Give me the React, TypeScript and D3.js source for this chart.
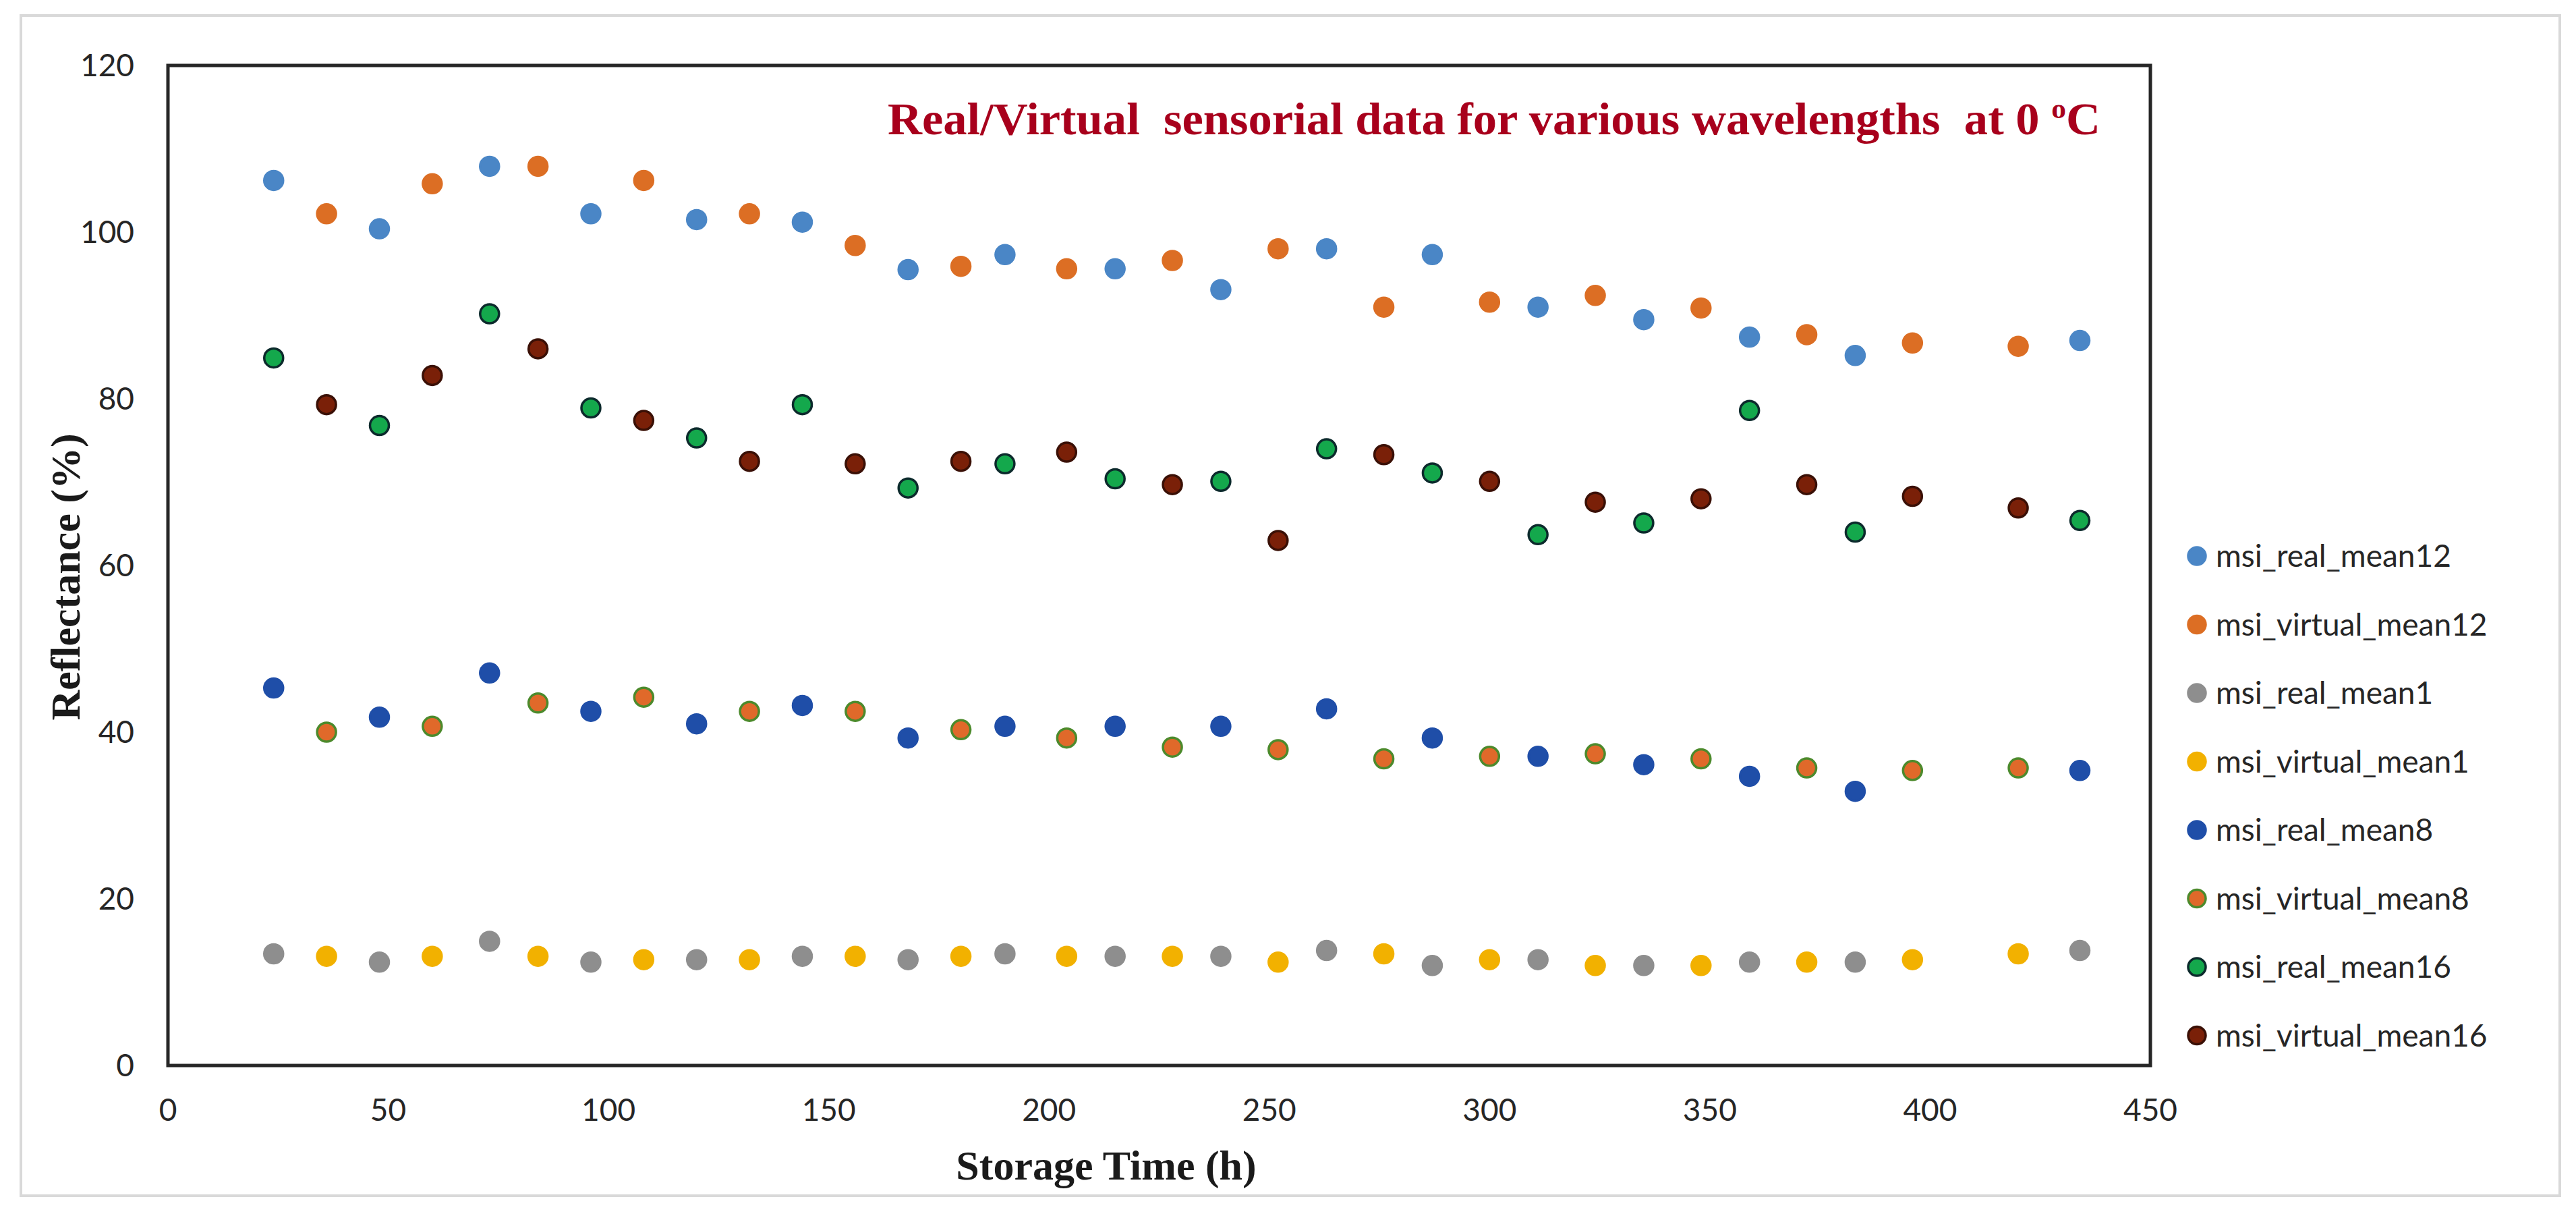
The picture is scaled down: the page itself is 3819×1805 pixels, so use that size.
import { useEffect, useRef } from "react";
import * as d3 from "d3";

// storage time (h) of each sample
const timeReal = [24, 48, 73, 96, 120, 144, 168, 190, 215, 239, 263, 287, 311, 335, 359, 383, 434];
const timeVirtual = [36, 60, 84, 108, 132, 156, 180, 204, 228, 252, 276, 300, 324, 348, 372, 396, 420];

// reflectance (%) per series
const realMean12 = [106.2, 100.4, 107.9, 102.2, 101.5, 101.2, 95.5, 97.3, 95.6, 93.1, 98.0, 97.3, 91.0, 89.5, 87.4, 85.2, 87.0];
const virtualMean12 = [102.2, 105.8, 107.9, 106.2, 102.2, 98.4, 95.9, 95.6, 96.6, 98.0, 91.0, 91.6, 92.4, 90.9, 87.7, 86.7, 86.3];
const realMean1 = [13.4, 12.4, 14.9, 12.4, 12.7, 13.1, 12.7, 13.4, 13.1, 13.1, 13.8, 12.0, 12.7, 12.0, 12.4, 12.4, 13.8];
const virtualMean1 = [13.1, 13.1, 13.1, 12.7, 12.7, 13.1, 13.1, 13.1, 13.1, 12.4, 13.4, 12.7, 12.0, 12.0, 12.4, 12.7, 13.4];
const realMean8 = [45.3, 41.8, 47.1, 42.5, 41.0, 43.2, 39.3, 40.7, 40.7, 40.7, 42.8, 39.3, 37.1, 36.1, 34.7, 32.9, 35.4];
const virtualMean8 = [40.0, 40.7, 43.5, 44.2, 42.5, 42.5, 40.3, 39.3, 38.2, 37.9, 36.8, 37.1, 37.4, 36.8, 35.7, 35.4, 35.7];
const realMean16 = [84.9, 76.8, 90.2, 78.9, 75.3, 79.3, 69.3, 72.2, 70.4, 70.1, 74.0, 71.1, 63.7, 65.1, 78.6, 64.0, 65.4];
const virtualMean16 = [79.3, 82.8, 86.0, 77.4, 72.5, 72.2, 72.5, 73.6, 69.7, 63.0, 73.3, 70.1, 67.6, 68.0, 69.7, 68.3, 66.9];

const xTicks = [0, 50, 100, 150, 200, 250, 300, 350, 400, 450];
const yTicks = [0, 20, 40, 60, 80, 100, 120];

const series = [
  { name: "msi_real_mean12", x: timeReal, y: realMean12, fill: "#4A86C6", stroke: "#4A86C6" },
  { name: "msi_virtual_mean12", x: timeVirtual, y: virtualMean12, fill: "#DC6E24", stroke: "#DC6E24" },
  { name: "msi_real_mean1", x: timeReal, y: realMean1, fill: "#8E8E8E", stroke: "#8E8E8E" },
  { name: "msi_virtual_mean1", x: timeVirtual, y: virtualMean1, fill: "#F2B100", stroke: "#F2B100" },
  { name: "msi_real_mean8", x: timeReal, y: realMean8, fill: "#1F4EA8", stroke: "#1F4EA8" },
  { name: "msi_virtual_mean8", x: timeVirtual, y: virtualMean8, fill: "#E0692A", stroke: "#4C8A2C" },
  { name: "msi_real_mean16", x: timeReal, y: realMean16, fill: "#14A84C", stroke: "#0C2A2C" },
  { name: "msi_virtual_mean16", x: timeVirtual, y: virtualMean16, fill: "#7A2008", stroke: "#3A1006" },
];

const W = 3819;
const H = 1805;

export default function App() {
  const svgRef = useRef<SVGSVGElement>(null);

  useEffect(() => {
    if (!svgRef.current) return;
    const svg = d3.select(svgRef.current);
    svg.selectAll("*").remove();

    const plot = { left: 249, right: 3188, top: 97, bottom: 1579 };
    const x = d3.scaleLinear().domain([0, 450]).range([plot.left, plot.right]);
    const y = d3.scaleLinear().domain([0, 120]).range([plot.bottom, plot.top]);

    svg.append("rect").attr("width", W).attr("height", H).attr("fill", "#fff");

    // outer chart border
    svg
      .append("rect")
      .attr("x", 31)
      .attr("y", 23)
      .attr("width", 3764)
      .attr("height", 1749)
      .attr("fill", "none")
      .attr("stroke", "#d9d9d9")
      .attr("stroke-width", 4);

    // plot frame
    svg
      .append("rect")
      .attr("x", plot.left)
      .attr("y", plot.top)
      .attr("width", plot.right - plot.left)
      .attr("height", plot.bottom - plot.top)
      .attr("fill", "none")
      .attr("stroke", "#262626")
      .attr("stroke-width", 5);

    // tick labels
    svg
      .append("g")
      .selectAll("text")
      .data(xTicks)
      .join("text")
      .attr("x", (d) => x(d))
      .attr("y", 1661)
      .attr("text-anchor", "middle")
      .attr("font-family", "Lato, 'Open Sans', sans-serif")
      .attr("font-size", 46)
      .attr("fill", "#262626")
      .text((d) => d);

    svg
      .append("g")
      .selectAll("text")
      .data(yTicks)
      .join("text")
      .attr("x", 199)
      .attr("y", (d) => y(d))
      .attr("dy", "0.35em")
      .attr("text-anchor", "end")
      .attr("font-family", "Lato, 'Open Sans', sans-serif")
      .attr("font-size", 46)
      .attr("fill", "#262626")
      .text((d) => d);

    // axis titles
    svg
      .append("text")
      .attr("x", 1640)
      .attr("y", 1748)
      .attr("text-anchor", "middle")
      .attr("font-family", "'Liberation Serif', 'Times New Roman', serif")
      .attr("font-weight", "bold")
      .attr("font-size", 62)
      .attr("fill", "#1a1a1a")
      .text("Storage Time (h)");

    svg
      .append("text")
      .attr("transform", "translate(118, 855) rotate(-90)")
      .attr("text-anchor", "middle")
      .attr("font-family", "'Liberation Serif', 'Times New Roman', serif")
      .attr("font-weight", "bold")
      .attr("font-size", 62)
      .attr("fill", "#1a1a1a")
      .text("Reflectance (%)");

    // title inside the plot
    const title = svg
      .append("text")
      .attr("x", 1316)
      .attr("y", 199)
      .attr("font-family", "'Liberation Serif', 'Times New Roman', serif")
      .attr("font-weight", "bold")
      .attr("font-size", 68)
      .attr("fill", "#A8001C")
      .attr("textLength", 1798)
      .attr("lengthAdjust", "spacingAndGlyphs")
      .attr("xml:space", "preserve");
    title.append("tspan").text("Real/Virtual  sensorial data for various wavelengths  at 0 ");
    title.append("tspan").attr("font-size", 42).attr("dy", -24).text("o");
    title.append("tspan").attr("dy", 24).text("C");

    // points
    const pts = svg.append("g");
    series.forEach((s) => {
      pts
        .append("g")
        .selectAll("circle")
        .data(s.y.map((v, i) => ({ t: s.x[i], v })))
        .join("circle")
        .attr("cx", (d) => x(d.t))
        .attr("cy", (d) => y(d.v))
        .attr("r", 14)
        .attr("fill", s.fill)
        .attr("stroke", s.stroke)
        .attr("stroke-width", 3.5);
    });

    // legend
    const legend = svg
      .append("g")
      .selectAll("g")
      .data(series)
      .join("g")
      .attr("transform", (_, i) => `translate(3257, ${824 + i * 101.5})`);
    legend
      .append("circle")
      .attr("r", 13)
      .attr("fill", (d) => d.fill)
      .attr("stroke", (d) => d.stroke)
      .attr("stroke-width", 3.5);
    legend
      .append("text")
      .attr("x", 28)
      .attr("dy", "0.35em")
      .attr("font-family", "Lato, 'Open Sans', sans-serif")
      .attr("font-size", 46)
      .attr("fill", "#262626")
      .text((d) => d.name);
  }, []);

  return (
    <svg
      ref={svgRef}
      width={W}
      height={H}
      style={{ position: "absolute", left: 0, top: 0 }}
    />
  );
}
